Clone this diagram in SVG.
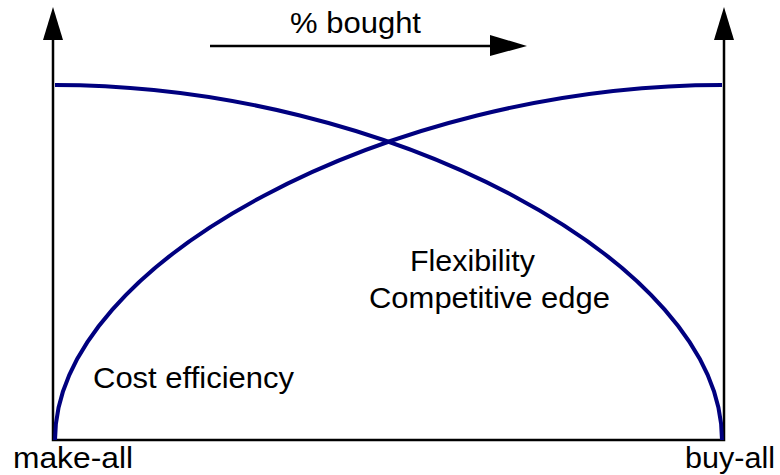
<svg xmlns="http://www.w3.org/2000/svg" width="780" height="475" viewBox="0 0 780 475">
<style>
.axis{stroke:#000;stroke-width:2.5;fill:none}
.curve{stroke:#00007f;stroke-width:4;fill:none}
.head{fill:#000;stroke:none}
text{font-family:"Liberation Sans",Arial,sans-serif;font-size:30px;fill:#000}
</style>
<rect width="780" height="475" fill="#fff"/>
<g id="connectors">
<polyline class="axis" points="53,40 53,440 724,440 724,40"/>
<polygon class="head" points="53,7 43,40 63,40"/>
<polygon class="head" points="724,7 714,40 734,40"/>
<line class="axis" x1="210" y1="46" x2="492" y2="46"/>
<polygon class="head" points="527,46 490,35 490,56"/>
<path class="curve" d="M55,85 C388.5,85 722,262.5 722,440"/>
<path class="curve" d="M55,440 C55,262.5 388.5,85 722,85"/>
</g>
<g id="label-bought"><text x="290" y="33" textLength="131" lengthAdjust="spacingAndGlyphs">% bought</text></g>
<g id="label-flex"><text x="410" y="271" textLength="125" lengthAdjust="spacingAndGlyphs">Flexibility</text></g>
<g id="label-comp"><text x="369" y="308" textLength="241" lengthAdjust="spacingAndGlyphs">Competitive edge</text></g>
<g id="label-cost"><text x="93" y="388" textLength="201" lengthAdjust="spacingAndGlyphs">Cost efficiency</text></g>
<g id="label-make"><text x="13" y="468" textLength="120" lengthAdjust="spacingAndGlyphs">make-all</text></g>
<g id="label-buy"><text x="685" y="468" textLength="90" lengthAdjust="spacingAndGlyphs">buy-all</text></g>
</svg>
